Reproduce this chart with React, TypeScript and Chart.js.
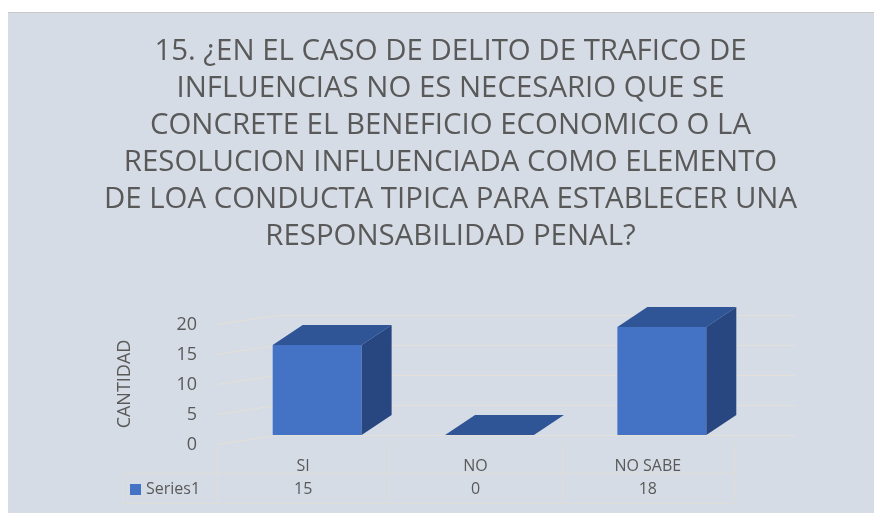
import React, { useEffect, useRef } from "react";
import { Chart, registerables } from "chart.js";

Chart.register(...registerables);

const CATEGORIES = ["SI", "NO", "NO SABE"];
const SERIES_NAME = "Series1";
const VALUES = [15, 0, 18];
const Y_TICKS = [0, 5, 10, 15, 20];
const Y_TITLE = "CANTIDAD";
const TITLE_LINES = [
  "15. ¿EN EL CASO DE DELITO DE TRAFICO DE",
  "INFLUENCIAS NO ES NECESARIO QUE SE",
  "CONCRETE EL BENEFICIO ECONOMICO O LA",
  "RESOLUCION INFLUENCIADA COMO ELEMENTO",
  "DE LOA CONDUCTA TIPICA PARA ESTABLECER UNA",
  "RESPONSABILIDAD PENAL?",
];

const FONT = "'Open Sans', 'DejaVu Sans', sans-serif";
const TEXT = "#595959";
const BG = "#D6DCE5";
const GRID = "#E4E0D9";
const TABLE_LINE = "#E0DDD7";
const FRONT = "#4472C4";
const TOP = "#2F5597";
const SIDE = "#284780";
const DX = 30;
const DY = 20;
const SHIFT = 14;

const excel3d = {
  id: "excel3d",
  beforeDraw(chart: any) {
    const { ctx, width, height } = chart;
    ctx.save();
    ctx.fillStyle = BG;
    ctx.fillRect(0, 0, width, height);
    ctx.strokeStyle = "#C8C8C8";
    ctx.lineWidth = 1;
    ctx.beginPath();
    ctx.moveTo(0.5, height);
    ctx.lineTo(0.5, 0.5);
    ctx.lineTo(width, 0.5);
    ctx.stroke();
    ctx.restore();
  },
  beforeDatasetsDraw(chart: any) {
    const { ctx, chartArea: ca, scales } = chart;
    const y = scales.y;
    ctx.save();
    ctx.strokeStyle = GRID;
    ctx.lineWidth = 1;
    y.ticks.forEach((t: any) => {
      const py = Math.round(y.getPixelForValue(t.value)) + 0.5;
      ctx.beginPath();
      ctx.moveTo(ca.left - SHIFT, py + 9);
      ctx.lineTo(ca.left + 46, py);
      ctx.lineTo(ca.right + 47, py);
      ctx.stroke();
    });
    ctx.restore();
  },
  afterDatasetsDraw(chart: any) {
    const { ctx } = chart;
    const meta = chart.getDatasetMeta(0);
    ctx.save();
    meta.data.forEach((bar: any) => {
      const { x, y, base, width } = bar.getProps(["x", "y", "base", "width"], true);
      const x0 = x - width / 2;
      const x1 = x + width / 2;
      ctx.fillStyle = TOP;
      ctx.beginPath();
      ctx.moveTo(x0, y);
      ctx.lineTo(x1, y);
      ctx.lineTo(x1 + DX, y - DY);
      ctx.lineTo(x0 + DX, y - DY);
      ctx.closePath();
      ctx.fill();
      if (base - y > 0.5) {
        ctx.fillStyle = SIDE;
        ctx.beginPath();
        ctx.moveTo(x1, y);
        ctx.lineTo(x1 + DX, y - DY);
        ctx.lineTo(x1 + DX, base - DY);
        ctx.lineTo(x1, base);
        ctx.closePath();
        ctx.fill();
      }
    });
    ctx.restore();
  },
  afterDraw(chart: any) {
    const { ctx, chartArea: ca, scales } = chart;
    const xs = scales.x;
    const n = CATEGORIES.length;
    const cw = (ca.right - ca.left) / n;
    const top = ca.bottom + 8;
    const mid = top + 30;
    const bot = mid + 30;
    const legendLeft = ca.left - SHIFT - 95;
    ctx.save();
    ctx.strokeStyle = TABLE_LINE;
    ctx.lineWidth = 1;
    ctx.beginPath();
    for (let i = 0; i <= n; i++) {
      const lx = Math.round(ca.left - SHIFT + i * cw) + 0.5;
      ctx.moveTo(lx, top);
      ctx.lineTo(lx, bot);
    }
    ctx.moveTo(legendLeft + 0.5, mid);
    ctx.lineTo(legendLeft + 0.5, bot);
    ctx.moveTo(legendLeft, mid + 0.5);
    ctx.lineTo(ca.right - SHIFT, mid + 0.5);
    ctx.moveTo(legendLeft, bot + 0.5);
    ctx.lineTo(ca.right - SHIFT, bot + 0.5);
    ctx.stroke();

    ctx.fillStyle = TEXT;
    ctx.font = `16px ${FONT}`;
    ctx.textAlign = "center";
    ctx.textBaseline = "middle";
    VALUES.forEach((v, i) => {
      const cx = xs.getPixelForValue(i) - SHIFT;
      ctx.fillText(String(v), cx, mid + 16);
    });
    ctx.fillStyle = FRONT;
    ctx.fillRect(legendLeft + 8, mid + 11, 11, 11);
    ctx.fillStyle = TEXT;
    ctx.textAlign = "left";
    ctx.fillText(SERIES_NAME, legendLeft + 24, mid + 16);

    ctx.translate(118, (ca.top + ca.bottom) / 2 + 9);
    ctx.rotate(-Math.PI / 2);
    ctx.textAlign = "center";
    ctx.font = `18px ${FONT}`;
    ctx.fillText(Y_TITLE, 0, 0);
    ctx.restore();
  },
};

export default function App() {
  const ref = useRef<HTMLCanvasElement | null>(null);
  useEffect(() => {
    if (!ref.current) return;
    const chart = new Chart(ref.current, {
      type: "bar",
      data: {
        labels: CATEGORIES,
        datasets: [
          {
            label: SERIES_NAME,
            data: VALUES,
            backgroundColor: FRONT,
            barPercentage: 0.516,
            categoryPercentage: 1,
          },
        ],
      },
      options: {
        responsive: false,
        animation: false,
        layout: { padding: { left: 12, right: 0, top: 0, bottom: 0 } },
        plugins: {
          legend: { display: false },
          tooltip: { enabled: false },
          title: {
            display: true,
            text: TITLE_LINES,
            color: TEXT,
            font: { family: FONT, size: 29.4, weight: "normal", lineHeight: 37 / 29.4 },
            padding: { top: 21.5, bottom: 59.5 },
          },
        },
        scales: {
          x: {
            grid: { display: false },
            border: { display: false },
            ticks: {
              color: TEXT,
              font: { family: FONT, size: 16 },
              padding: 14,
              labelOffset: -SHIFT,
              maxRotation: 0,
              autoSkip: false,
            },
            afterFit: (s: any) => {
              s.height = 78;
            },
          },
          y: {
            min: 0,
            max: 20,
            grid: { display: false },
            border: { display: false },
            afterBuildTicks: (s: any) => {
              s.ticks = Y_TICKS.map((v) => ({ value: v }));
            },
            ticks: {
              color: TEXT,
              font: { family: FONT, size: 18 },
              padding: 26,
              labelOffset: 10,
            },
            afterFit: (s: any) => {
              s.width = 212;
            },
          },
          yRight: {
            position: "right",
            min: 0,
            max: 20,
            display: true,
            grid: { display: false },
            border: { display: false },
            ticks: { display: false },
            afterFit: (s: any) => {
              s.width = 134;
            },
          },
        },
      },
      plugins: [excel3d],
    } as any);
    return () => chart.destroy();
  }, []);
  return (
    <div style={{ paddingTop: 4, marginLeft: -1 }}>
      <canvas ref={ref} width={875} height={501} style={{ display: "block" }} />
    </div>
  );
}
